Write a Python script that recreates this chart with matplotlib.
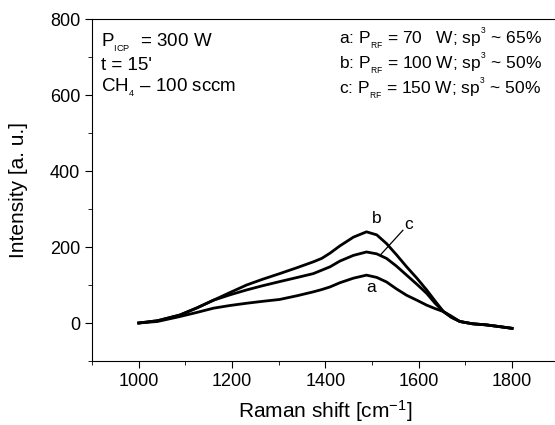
import matplotlib.pyplot as plt
import numpy as np

plt.rcParams['font.family'] = ['Liberation Sans', 'DejaVu Sans']
plt.rcParams['mathtext.fontset'] = 'custom'
plt.rcParams['mathtext.rm'] = 'Liberation Sans'
plt.rcParams['mathtext.it'] = 'Liberation Sans'

# Raman spectra (cm^-1, a.u.)
shift = [1000, 1040, 1088, 1125, 1160, 1195, 1231, 1265, 1302, 1340, 1374, 1392,
         1410, 1431, 1460, 1488, 1510, 1531, 1552, 1574, 1596, 1617, 1635,
         1653, 1670, 1688, 1715, 1745, 1770, 1800]
spec_a = [0, 4, 17, 28, 39, 46, 52, 57, 62, 72, 82, 88,
          95, 106, 118, 126, 120, 108, 90, 73, 60, 47, 38,
          30, 18, 4, -2, -5, -9, -14]
spec_b = [0, 6, 21, 40, 60, 80, 100, 115, 130, 146, 161, 170,
          184, 203, 226, 240, 232, 209, 180, 148, 118, 87, 58,
          30, 15, 4, -2, -5, -9, -14]
spec_c = [0, 6, 21, 40, 60, 74, 87, 98, 109, 120, 130, 139,
          148, 163, 178, 187, 182, 170, 150, 126, 102, 78, 52,
          30, 15, 4, -2, -5, -9, -14]

fig = plt.figure(figsize=(5.55, 4.25), dpi=100)
ax = fig.add_axes([0.166, 0.1506, 0.8407, 0.8045])

for s in (spec_a, spec_b, spec_c):
    ax.plot(shift, s, color='black', lw=2.0)

ax.set_xlim(900, 1900)
ax.set_ylim(-100, 800)
ax.set_xticks([1000, 1200, 1400, 1600, 1800])
ax.set_xticks(np.arange(900, 1901, 100), minor=True)
ax.set_yticks([0, 200, 400, 600, 800])
ax.set_yticks(np.arange(-100, 801, 100), minor=True)
ax.tick_params(which='both', direction='out', labelsize=13)
ax.tick_params(which='major', length=5)
ax.tick_params(which='minor', length=3)
ax.set_xlabel('Raman shift [cm$^{\\mathregular{-1}}$]', fontsize=15, labelpad=6)
ax.set_ylabel('Intensity [a. u.]', fontsize=15, labelpad=16)

# curve labels
ax.text(1509, 275, 'b', fontsize=12.5, ha='center', va='center')
ax.text(1578, 258, 'c', fontsize=12.5, ha='center', va='center')
ax.text(1498, 94, 'a', fontsize=12.5, ha='center', va='center')
ax.plot([1566, 1517], [244, 178], color='black', lw=0.9)

# condition text
left = ['$\\mathregular{P_{_{ICP}}}$  = 300 W', "t = 15'", '$\\mathregular{CH_{_4}}$ \u2013 100 sccm']
for i, t in enumerate(left):
    ax.text(0.018, 0.93 - i * 0.066, t, transform=ax.transAxes, fontsize=13.5, va='center')

right = ['a: $\\mathregular{P_{_{RF}}}$ = 70   W; sp$^{\\mathregular{^3}}$ ~ 65%',
         'b: $\\mathregular{P_{_{RF}}}$ = 100 W; sp$^{\\mathregular{^3}}$ ~ 50%',
         'c: $\\mathregular{P_{_{RF}}}$ = 150 W; sp$^{\\mathregular{^3}}$ ~ 50%']
for i, t in enumerate(right):
    ax.text(0.529, 0.945 - i * 0.074, t, transform=ax.transAxes, fontsize=12.5, va='center')

fig.savefig('out.png', dpi=100)
